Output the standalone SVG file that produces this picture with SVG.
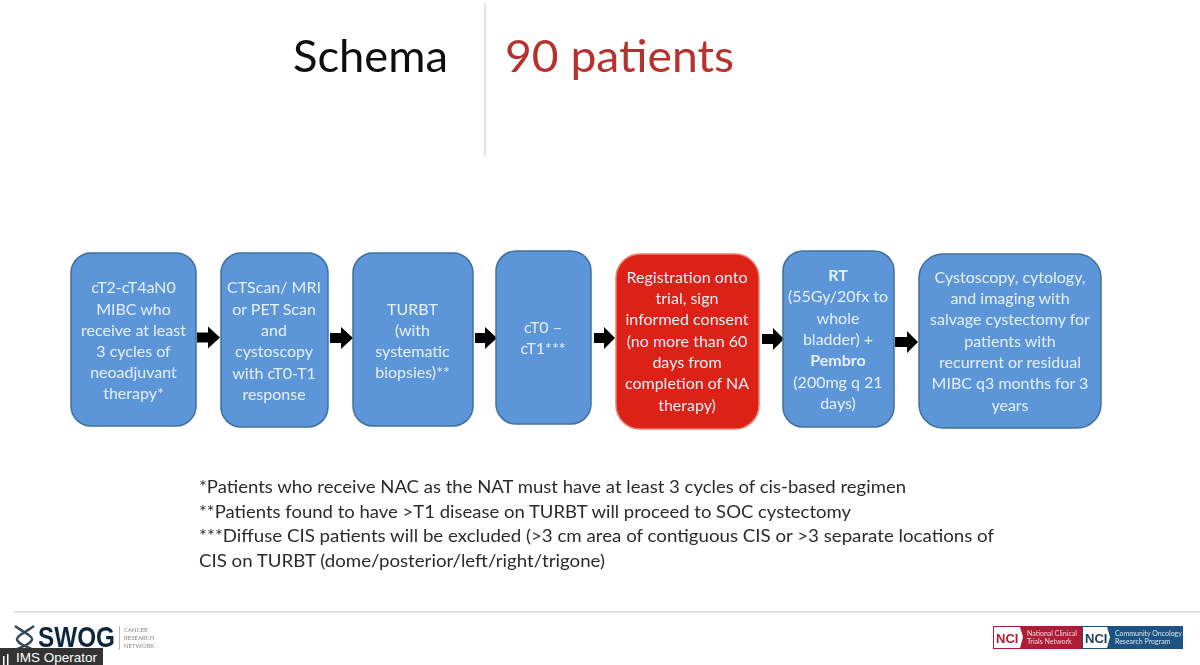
<svg xmlns="http://www.w3.org/2000/svg" width="1200" height="665" viewBox="0 0 1200 665">
<style>
text{font-family:Lato,"Open Sans","Liberation Sans",sans-serif}
.n{fill:#5b96d8;stroke:#41709f;stroke-width:1.5}
.r{fill:#dc2117;stroke:#ee7f70;stroke-width:1.5}
.t{fill:#e6f0fa;font-size:16px;text-anchor:middle}
.f{fill:#2b2b2b;font-size:17px}
.arrow{fill:#000}
.l{font-family:"Liberation Sans",sans-serif}
</style>
<defs><filter id="soft" x="-2%" y="-2%" width="104%" height="104%"><feGaussianBlur stdDeviation="0.45"/></filter></defs>
<rect width="1200" height="665" fill="#fff"/>
<g filter="url(#soft)">
<text x="293" y="72" font-size="44" fill="#111" textLength="155" lengthAdjust="spacingAndGlyphs">Schema</text>
<rect x="484" y="3" width="2" height="153" fill="#e4e4e4"/>
<text x="505" y="72" font-size="44" fill="#b5332e" textLength="229" lengthAdjust="spacingAndGlyphs">90 patients</text>
<g id="connectors" class="arrow">
<path id="a1" d="M197 332.500h11v-6l12 11-12 11v-6h-11z"/>
<path id="a2" d="M330 333h11v-6l12 11-12 11v-6h-11z"/>
<path id="a3" d="M475 333h10v-6l12 11-12 11v-6h-10z"/>
<path id="a4" d="M594 333h10v-6l11 11-11 11v-6h-10z"/>
<path id="a5" d="M762 334h11v-6l11 11-11 11v-6h-11z"/>
<path id="a6" d="M895 337h12v-6l11 11-11 11v-6h-12z"/>
</g>
<g id="n1"><rect class="n" x="71" y="253" width="125" height="173" rx="20"/>
<text class="t" x="133.500" y="293">cT2-cT4aN0</text><text class="t" x="133.500" y="314.500">MIBC who</text><text class="t" x="133.500" y="335.500">receive at least</text><text class="t" x="133.500" y="357">3 cycles of</text><text class="t" x="133.500" y="378">neoadjuvant</text><text class="t" x="133.500" y="399">therapy*</text></g>
<g id="n2"><rect class="n" x="221" y="253" width="107" height="174" rx="20"/>
<text class="t" x="274" y="293">CTScan/ MRI</text><text class="t" x="274" y="314.500">or PET Scan</text><text class="t" x="274" y="336">and</text><text class="t" x="274" y="357">cystoscopy</text><text class="t" x="274" y="378.500">with cT0-T1</text><text class="t" x="274" y="400">response</text></g>
<g id="n3"><rect class="n" x="353" y="253" width="120" height="173" rx="20"/>
<text class="t" x="412.500" y="314.500">TURBT</text><text class="t" x="412.500" y="336">(with</text><text class="t" x="412.500" y="357">systematic</text><text class="t" x="412.500" y="378">biopsies)**</text></g>
<g id="n4"><rect class="n" x="496" y="251" width="95" height="173" rx="20"/>
<text class="t" x="543" y="333">cT0 –</text><text class="t" x="543" y="354">cT1***</text></g>
<g id="n5"><rect class="r" x="616" y="254" width="143" height="175" rx="24"/>
<text class="t" x="687" y="283">Registration onto</text><text class="t" x="687" y="304">trial, sign</text><text class="t" x="687" y="325">informed consent</text><text class="t" x="687" y="347">(no more than 60</text><text class="t" x="687" y="368">days from</text><text class="t" x="687" y="389">completion of NA</text><text class="t" x="687" y="411">therapy)</text></g>
<g id="n6"><rect class="n" x="783" y="251" width="111" height="176" rx="20"/>
<text class="t" x="838" y="281" font-weight="700">RT</text><text class="t" x="838" y="302">(55Gy/20fx to</text><text class="t" x="838" y="324">whole</text><text class="t" x="838" y="345">bladder) +</text><text class="t" x="838" y="366" font-weight="700">Pembro</text><text class="t" x="838" y="388">(200mg q 21</text><text class="t" x="838" y="409">days)</text></g>
<g id="n7"><rect class="n" x="919" y="254" width="182" height="174" rx="24"/>
<text class="t" x="1010" y="283">Cystoscopy, cytology,</text><text class="t" x="1010" y="304">and imaging with</text><text class="t" x="1010" y="325">salvage cystectomy for</text><text class="t" x="1010" y="347">patients with</text><text class="t" x="1010" y="368">recurrent or residual</text><text class="t" x="1010" y="389">MIBC q3 months for 3</text><text class="t" x="1010" y="411">years</text></g>
<text class="f" x="199" y="493" textLength="707" lengthAdjust="spacingAndGlyphs">*Patients who receive NAC as the NAT must have at least 3 cycles of cis-based regimen</text>
<text class="f" x="199" y="518" textLength="652" lengthAdjust="spacingAndGlyphs">**Patients found to have &gt;T1 disease on TURBT will proceed to SOC cystectomy</text>
<text class="f" x="199" y="542" textLength="795" lengthAdjust="spacingAndGlyphs">***Diffuse CIS patients will be excluded (&gt;3 cm area of contiguous CIS or &gt;3 separate locations of</text>
<text class="f" x="199" y="567" textLength="406" lengthAdjust="spacingAndGlyphs">CIS on TURBT (dome/posterior/left/right/trigone)</text>
<rect x="14" y="611" width="1186" height="1.500" fill="#dcdcdc"/>
<g id="swog">
<path d="M15 626c6 5 17 9 17 13s-7 7-17 11M34 626c-6 5-17 9-17 13s7 7 17 11" fill="none" stroke="#39495b" stroke-width="2.500"/>
<text class="l" x="38" y="647" font-size="30" font-weight="700" fill="#10283f" textLength="77" lengthAdjust="spacingAndGlyphs">SWOG</text>
<rect x="119" y="626" width="1" height="24" fill="#bbb"/>
<text x="124" y="632" font-size="6" fill="#888">CANCER</text><text x="124" y="640" font-size="6" fill="#888">RESEARCH</text><text x="124" y="648" font-size="6" fill="#888">NETWORK</text>
</g>
<g id="nci1"><rect x="993" y="626" width="106" height="23" fill="#b01e35"/><path d="M994 627h26l3 10-3 11h-26z" fill="#fff"/>
<text class="l" x="996" y="643" font-size="13" font-weight="700" fill="#b01e35">NCI</text>
<text x="1027" y="636" font-size="7" fill="#f4d4da">National Clinical</text><text x="1027" y="644" font-size="7" fill="#f4d4da">Trials Network</text></g>
<g id="nci2"><rect x="1082" y="626" width="101" height="23" fill="#1f5380"/><path d="M1083 627h24l3 10-3 11h-24z" fill="#fff"/>
<text class="l" x="1085" y="643" font-size="13" font-weight="700" fill="#1f3f60">NCI</text>
<text x="1115" y="636" font-size="7" fill="#d8e6f2">Community Oncology</text><text x="1115" y="644" font-size="7" fill="#d8e6f2">Research Program</text></g>
</g>
<g id="operator"><rect x="0" y="648" width="103" height="17" fill="#333"/>
<rect x="3" y="656" width="1.500" height="9" fill="#fff"/><rect x="7" y="654" width="1.500" height="11" fill="#fff"/>
<text class="l" x="16" y="661.500" font-size="13.500" fill="#fff">IMS Operator</text></g>
</svg>
